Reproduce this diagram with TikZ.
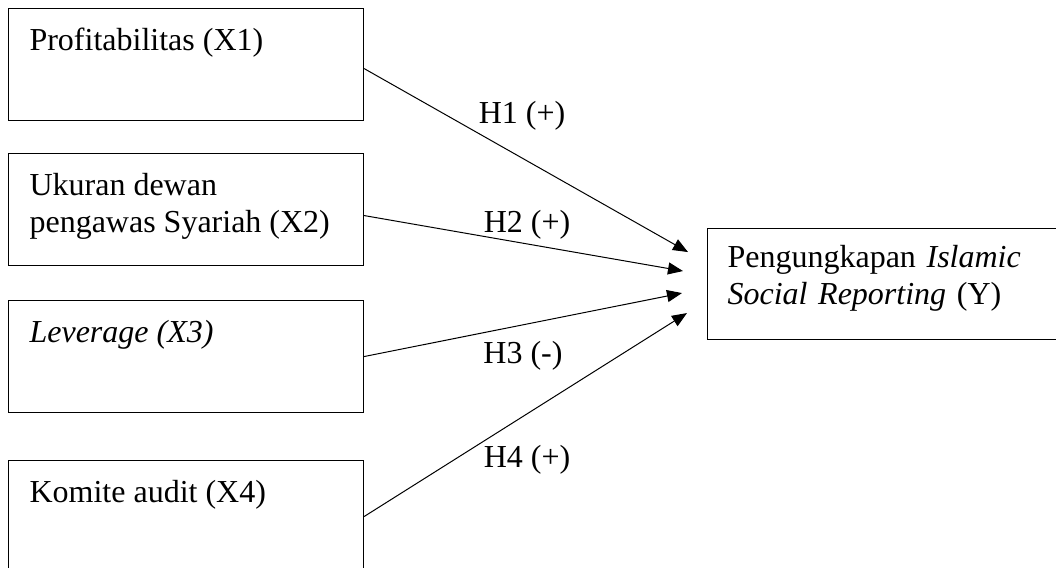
\documentclass[tikz,border=0pt]{standalone}
\usepackage{fontspec}
\setmainfont{Liberation Serif}
\usetikzlibrary{arrows.meta, positioning, calc}

\newcommand{\boxtxt}[2][40pt]{\parbox[t][#1][t]{156.5pt}{\strut #2}}

\begin{document}
\begin{tikzpicture}[x=0.5pt, y=-0.5pt, font=\fontsize{16}{18.5}\selectfont,
	varbox/.style={draw, line width=0.55pt, anchor=north west, inner xsep=10.5pt, inner ysep=8pt},
	link/.style={line width=0.5pt, -{Triangle[length=7.5pt, width=6pt]}}]
				\useasboundingbox (0,0) rectangle (1056,568);
				
				% Independent variables
				\node[varbox] (X1) at (8,8) {\boxtxt{Profitabilitas (X1)}};
				\node[varbox] (X2) at (8,153) {\boxtxt{Ukuran dewan\\pengawas Syariah (X2)}};
				\node[varbox] (X3) at (8,300) {\boxtxt{\textit{Leverage (X3)}}};
				\node[varbox] (X4) at (8,460) {\boxtxt{Komite audit (X4)}};
				
				% Dependent variable (runs off the right edge)
				\node[varbox, inner xsep=10pt, inner ysep=6.5pt, text width=175pt, align=left] (Y) at (707,228)
				{\boxtxt[42.5pt]{Pengungkapan \textit{Islamic}\\\textit{Social Reporting} (Y)}};
				
				% Arrow tips
				\coordinate (t1) at ($(Y.west)+(-19,-32)$);
				\coordinate (t2) at ($(Y.west)+(-24,-13)$);
				\coordinate (t3) at ($(Y.west)+(-25,9)$);
				\coordinate (t4) at ($(Y.west)+(-20,29)$);
				
				% Hypotheses
				\draw[link] ([yshift=-2pt]X1.east) -- (t1);
				\draw[link] ([yshift=-3pt]X2.east) -- (t2);
				\draw[link] (X3.east) -- (t3);
				\draw[link] (X4.east) -- (t4);
				
				% Labels
				\node[anchor=base] (h1) at (522,123) {H1 (+)};
				\node[anchor=base] (h2) at (527,232) {H2 (+)};
				\node[anchor=base] (h3) at (523,363) {H3 (-)};
				\node[anchor=base] (h4) at (527,467) {H4 (+)};
			\end{tikzpicture}
\end{document}
